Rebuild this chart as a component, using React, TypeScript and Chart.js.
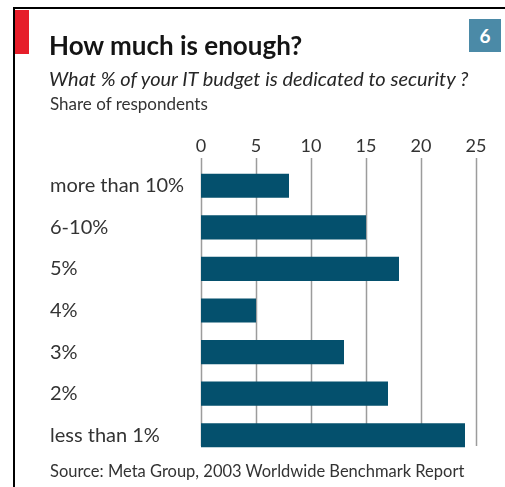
import React, { useEffect, useRef } from "react";
import { Chart, registerables } from "chart.js";

Chart.register(...registerables);

const categories = ["more than 10%", "6-10%", "5%", "4%", "3%", "2%", "less than 1%"];
const shares = [8, 15, 18, 5, 13, 17, 24];
const tickValues = [0, 5, 10, 15, 20, 25];

const FONT = "Lato, 'Open Sans', sans-serif";

const gridPlugin = {
  id: "vgrid",
  beforeDatasetsDraw(chart: any) {
    const { ctx, chartArea, scales } = chart;
    const x = scales.x;
    ctx.save();
    ctx.strokeStyle = "#9c9c9c";
    ctx.lineWidth = 1.5;
    for (const v of tickValues) {
      const px = Math.round(x.getPixelForValue(v)) + 0.5;
      ctx.beginPath();
      ctx.moveTo(px, chartArea.top - 7);
      ctx.lineTo(px, chartArea.bottom - 10);
      ctx.stroke();
    }
    ctx.restore();
  },
};

export default function App() {
  const ref = useRef<HTMLCanvasElement>(null);

  useEffect(() => {
    if (!ref.current) return;
    const chart = new Chart(ref.current, {
      type: "bar",
      data: {
        labels: categories,
        datasets: [
          {
            data: shares,
            backgroundColor: "#04506d",
            barPercentage: 0.58,
            categoryPercentage: 1,
          },
        ],
      },
      options: {
        indexAxis: "y",
        animation: false,
        responsive: false,
        devicePixelRatio: 1,
        layout: { padding: { left: 50, right: 29, top: 0, bottom: 31 } },
        plugins: { legend: { display: false }, tooltip: { enabled: false } },
        scales: {
          x: {
            position: "top",
            min: 0,
            max: 25,
            grid: { display: false, drawTicks: false },
            border: { display: false },
            ticks: {
              stepSize: 5,
              padding: 8,
              color: "#333",
              font: { family: FONT, size: 18 },
            },
            afterFit: (s: any) => {
              s.height = 165;
            },
          },
          y: {
            grid: { display: false, drawTicks: false },
            border: { display: false },
            ticks: {
              crossAlign: "far",
              padding: 0,
              color: "#333",
              font: { family: FONT, size: 20 },
            },
            afterFit: (s: any) => {
              s.width = 151;
            },
          },
        },
      },
      plugins: [gridPlugin],
    } as any);
    return () => chart.destroy();
  }, []);

  const abs: React.CSSProperties = { position: "absolute", whiteSpace: "nowrap", fontFamily: FONT };

  return (
    <div style={{ position: "absolute", left: 0, top: 0, width: 505, height: 487, background: "#fff", overflow: "hidden" }}>
      <canvas ref={ref} width={505} height={487} style={{ position: "absolute", left: 0, top: 0 }} />
      <div style={{ position: "absolute", left: 13, top: 7, width: 492, height: 2, background: "#000" }} />
      <div style={{ position: "absolute", left: 13, top: 7, width: 2, height: 480, background: "#000" }} />
      <div style={{ position: "absolute", left: 15, top: 10, width: 14, height: 44, background: "#e61e2a" }} />
      <div
        style={{
          position: "absolute",
          left: 469,
          top: 19,
          width: 32,
          height: 33,
          background: "#4b8aa7",
          color: "#fff",
          fontFamily: FONT,
          fontWeight: 700,
          fontSize: 19,
          lineHeight: "33px",
          textAlign: "center",
        }}
      >
        6
      </div>
      <div style={{ ...abs, left: 49, top: 32, fontSize: 26, lineHeight: "26px", fontWeight: 700, color: "#141414" }}>
        How much is enough?
      </div>
      <div style={{ ...abs, left: 49, top: 67.5, fontSize: 20, lineHeight: "20px", fontStyle: "italic", color: "#262626" }}>
        What % of your IT budget is dedicated to security ?
      </div>
      <div style={{ ...abs, left: 50, top: 95, fontSize: 17, lineHeight: "17px", color: "#333" }}>
        Share of respondents
      </div>
      <div style={{ ...abs, left: 50, top: 462.5, fontSize: 16.5, lineHeight: "16.5px", color: "#333" }}>
        Source: Meta Group, 2003 Worldwide Benchmark Report
      </div>
    </div>
  );
}
